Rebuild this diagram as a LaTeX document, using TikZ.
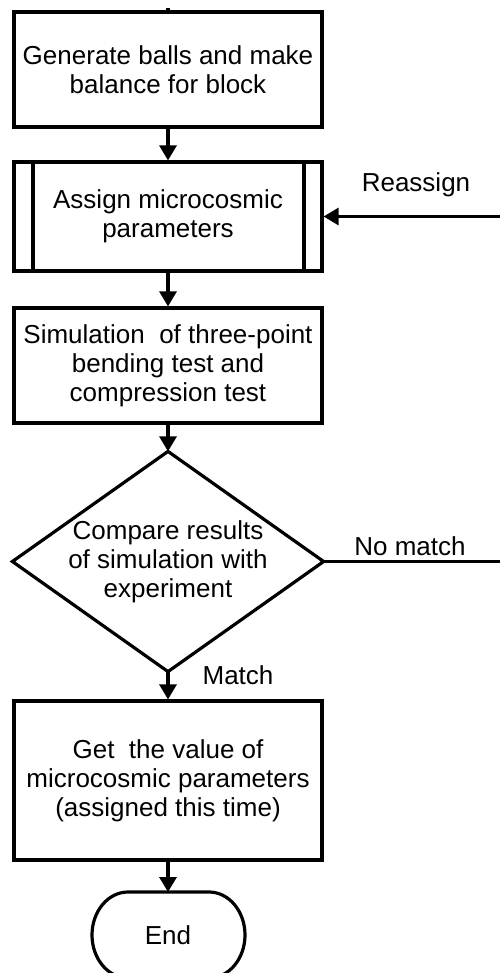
\documentclass[tikz,border=0pt]{standalone}
\usepackage{fontspec}
\setmainfont{Liberation Sans}
\usetikzlibrary{arrows.meta}

\tikzset{
  base/.style={line width=3.2pt, draw=black, align=center, inner sep=0pt,
    font=\fontsize{26}{29}\selectfont},
  procbox/.style={base, rectangle, minimum width=308pt},
  termbox/.style={base, draw=none, rectangle, minimum width=153pt, minimum height=86pt},
  flow/.style={line width=3.2pt, -{Triangle[length=15pt,width=17pt]}},
  plain/.style={line width=3.2pt},
  lbl/.style={font=\fontsize{26}{29}\selectfont, anchor=base, inner sep=0pt}
}

\begin{document}
\begin{tikzpicture}[x=1pt,y=-1pt]
  \useasboundingbox (0,0) rectangle (499,973);

  % process steps
  \node[procbox, minimum height=115pt] (gen) at (168,69.5)
    {Generate balls and make\\balance for block};
  \node[procbox, minimum height=109pt] (assign) at (168,216.5)
    {Assign microcosmic\\parameters};
  % predefined-process side bars
  \draw[plain] (33,162) -- (33,271);
  \draw[plain] (304,162) -- (304,271);
  \node[procbox, minimum height=115pt] (sim) at (168,365.5)
    {Simulation\ \ of three-point\\bending test and\\compression test};

  % decision
  \node[base, draw=none, minimum width=308pt, minimum height=217pt] (cmp) at (168,561.5)
    {Compare results\\of simulation with\\experiment};
  \draw[plain, line join=miter] (cmp.north) -- (cmp.east) -- (cmp.south) -- (cmp.west) -- cycle;

  \node[procbox, minimum height=159pt] (get) at (168,780.5)
    {Get\ \ the value of\\microcosmic parameters\\(assigned this time)};

  % terminator with half-elliptic ends
  \node[termbox] (end) at (168,935) {End};
  \draw[plain] (128,892) -- (209,892)
    arc[start angle=90, end angle=-90, x radius=36pt, y radius=43pt]
    -- (128,978)
    arc[start angle=270, end angle=90, x radius=36pt, y radius=43pt] -- cycle;

  % loose ends
  \coordinate (top) at (168,8);
  \coordinate (reIn) at (505,216.5);
  \coordinate (noOut) at (505,561.5);

  % connectors
  \draw[plain] (top) -- (gen.north);
  \draw[flow] (gen.south) -- (assign.north);
  \draw[flow] (assign.south) -- (sim.north);
  \draw[flow] (sim.south) -- (cmp.north);
  \draw[flow] (cmp.south) -- (get.north);
  \draw[flow] (get.south) -- ([yshift=-1.6pt]end.north);
  \draw[flow] (reIn) -- (assign.east);
  \draw[plain] (cmp.east) -- (noOut);

  % branch labels
  \node[lbl] (reLbl) at (416,192) {Reassign};
  \node[lbl] (noLbl) at (410,555) {No match};
  \node[lbl] (yesLbl) at (238,684) {Match};
\end{tikzpicture}
\end{document}
